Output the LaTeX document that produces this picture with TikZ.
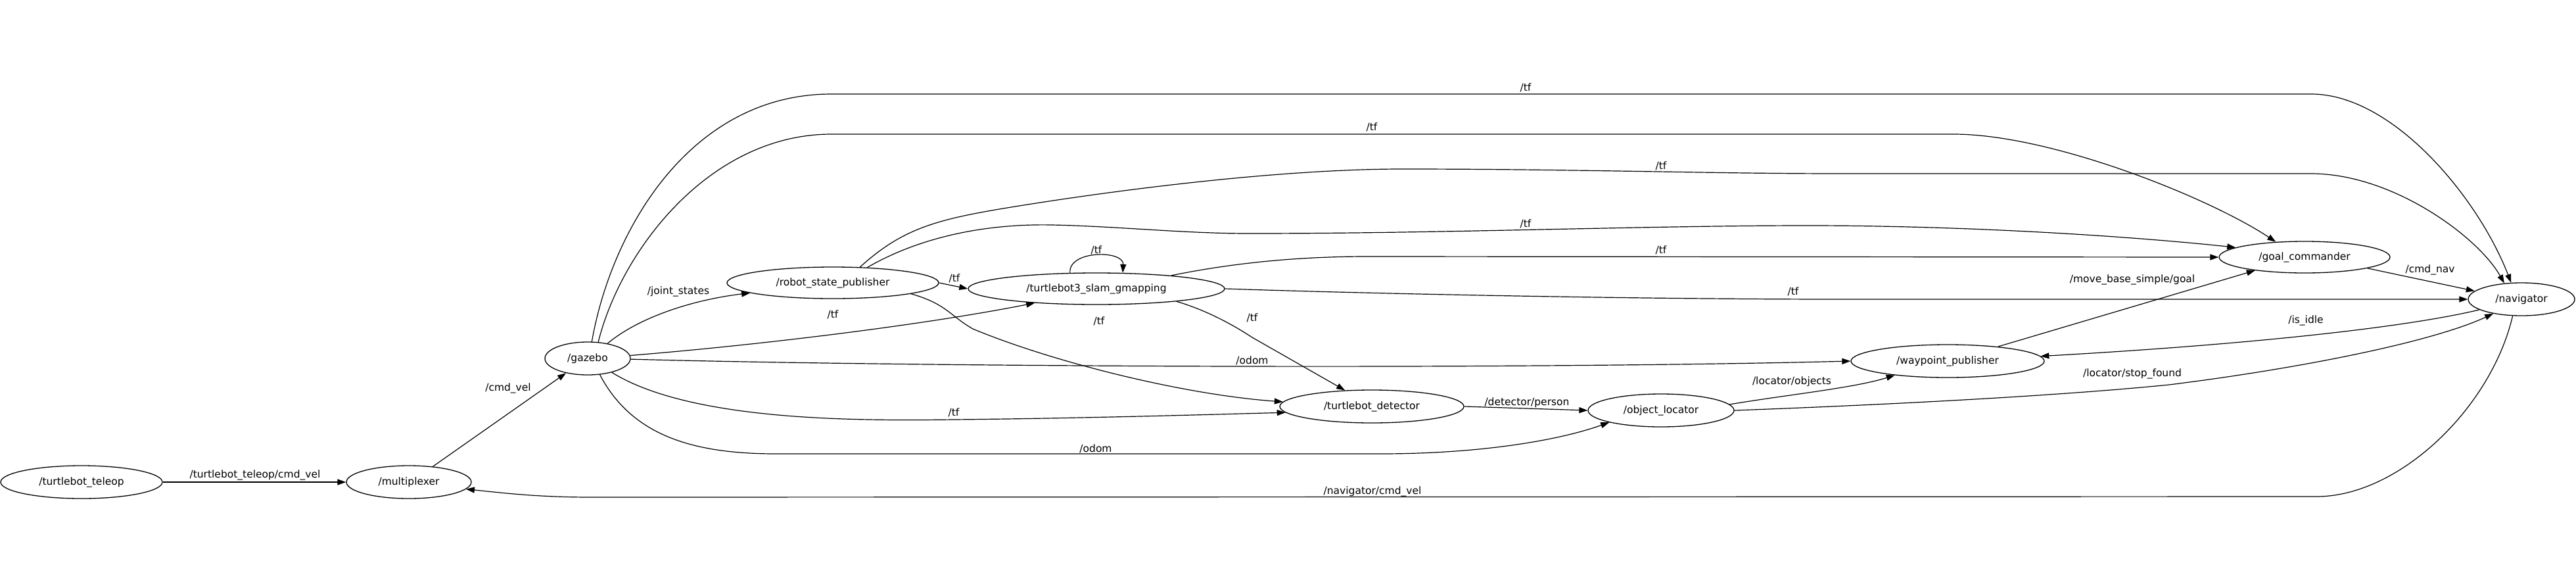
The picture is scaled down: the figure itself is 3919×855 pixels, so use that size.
\documentclass[tikz,border=0pt]{standalone}
\usepackage{fontspec}
\setmainfont{DejaVu Sans}
\usetikzlibrary{shapes.geometric,arrows.meta}
\begin{document}
\begin{tikzpicture}[x=1pt,y=-1pt,
  nd/.style={draw, ellipse, line width=1.3pt, inner sep=0pt, font=\fontsize{15.5}{18}\selectfont},
  conn/.style={line width=1.2pt, -{Triangle[length=13pt,width=9pt]}},
  lbl/.style={inner sep=0pt, font=\fontsize{15.5}{18}\selectfont}]
\useasboundingbox (0,0) rectangle (3919,855);

% nodes
\node[nd, minimum width=246pt, minimum height=50pt] (teleop) at (124,733) {/turtlebot\_teleop};
\node[nd, minimum width=190pt, minimum height=50pt] (mux) at (622,733) {/multiplexer};
\node[nd, minimum width=130pt, minimum height=50pt] (gazebo) at (894,545) {/gazebo};
\node[nd, minimum width=322pt, minimum height=48pt] (rsp) at (1267,430) {/robot\_state\_publisher};
\node[nd, minimum width=390pt, minimum height=48pt] (slam) at (1668,439) {/turtlebot3\_slam\_gmapping};
\node[nd, minimum width=280pt, minimum height=50pt] (det) at (2087,618) {/turtlebot\_detector};
\node[nd, minimum width=222pt, minimum height=50pt] (loc) at (2527,624) {/object\_locator};
\node[nd, minimum width=294pt, minimum height=50pt] (wp) at (2963,549) {/waypoint\_publisher};
\node[nd, minimum width=260pt, minimum height=48pt] (goal) at (3506,391) {/goal\_commander};
\node[nd, minimum width=162pt, minimum height=50pt] (nav) at (3836,455) {/navigator};

% connectors
\draw[conn] (teleop.east) -- (mux.west);
\draw[conn] (mux.33) -- (gazebo.214);
\draw[conn] (gazebo.37) .. controls (975,480) and (1060,455) .. (rsp.187);
\draw[conn] (rsp.east) -- (slam.west);
\draw[conn] (gazebo.4) .. controls (1150,525) and (1400,495) .. (slam.193);
\draw[conn] (gazebo.-1) .. controls (1400,558) and (2300,562) .. (wp.west);
\draw[conn] (gazebo.-30) .. controls (1050,640) and (1300,640) .. (1450,638) .. controls (1650,636) and (1850,630) .. (det.184);
\draw[conn] (gazebo.-53) .. controls (960,660) and (1050,690) .. (1180,690) -- (2100,690) .. controls (2250,690) and (2370,670) .. (loc.193);
\draw[conn] (gazebo.76) .. controls (930,350) and (1050,143) .. (1265,143) -- (3516,143) .. controls (3640,143) and (3770,300) .. (nav.122);
\draw[conn] (gazebo.57) .. controls (945,380) and (1080,204) .. (1265,204) -- (2972,204) .. controls (3120,204) and (3360,300) .. (goal.152);
\draw[conn] (rsp.30) .. controls (1370,350) and (1420,335) .. (1520,318) .. controls (1700,288) and (1950,257) .. (2133,257) .. controls (2400,257) and (2600,264) .. (2800,264) -- (3516,264) .. controls (3640,264) and (3770,360) .. (nav.137);
\draw[conn] (rsp.24) .. controls (1400,360) and (1500,340) .. (1600,342) .. controls (1700,344) and (1800,355) .. (1900,355) .. controls (2200,355) and (2500,343) .. (2750,343) .. controls (3000,343) and (3250,360) .. (goal.172);
\draw[conn] (slam.10) .. controls (1850,405) and (1950,390) .. (2080,390) -- (goal.west);
\draw[conn] (slam.east) .. controls (2100,447) and (2500,455) .. (2800,455) -- (nav.west);
\draw[conn] (slam.149) .. controls (1625,380) and (1710,380) .. (slam.31);
\draw[conn] (slam.-9) .. controls (1830,470) and (1870,490) .. (1905,513) -- (det.149);
\draw[conn] (rsp.-8) .. controls (1440,462) and (1445,480) .. (1480,500) .. controls (1600,550) and (1800,600) .. (det.177);
\draw[conn] (det.east) -- (loc.west);
\draw[conn] (loc.5) .. controls (2720,600) and (2820,590) .. (wp.195);
\draw[conn] (loc.east) .. controls (2800,618) and (3100,605) .. (3300,585) .. controls (3500,560) and (3700,520) .. (nav.207);
\draw[conn] (wp.16) -- (goal.195);
\draw[conn] (nav.194) .. controls (3650,500) and (3400,525) .. (wp.3);
\draw[conn] (goal.-10) -- (nav.170);
\draw[conn] (nav.242) .. controls (3790,620) and (3650,755) .. (3524,755) -- (900,756) .. controls (820,756) and (770,750) .. (mux.-7);

% labels
\node[lbl] (l1) at (388,722) {/turtlebot\_teleop/cmd\_vel};
\node[lbl] (l2) at (773,590) {/cmd\_vel};
\node[lbl] (l3) at (1032,443) {/joint\_states};
\node[lbl] (l4) at (1452,423) {/tf};
\node[lbl] (l5) at (1267,478) {/tf};
\node[lbl] (l6) at (1905,548) {/odom};
\node[lbl] (l7) at (1451,627) {/tf};
\node[lbl] (l8) at (1667,682) {/odom};
\node[lbl] (l9) at (2321,133) {/tf};
\node[lbl] (l10) at (2087,193) {/tf};
\node[lbl] (l11) at (2527,252) {/tf};
\node[lbl] (l12) at (2321,340) {/tf};
\node[lbl] (l13) at (2527,380) {/tf};
\node[lbl] (l14) at (2728,443) {/tf};
\node[lbl] (l15) at (1668,380) {/tf};
\node[lbl] (l16) at (1905,483) {/tf};
\node[lbl] (l17) at (1672,488) {/tf};
\node[lbl] (l18) at (2323,612) {/detector/person};
\node[lbl] (l19) at (2726,580) {/locator/objects};
\node[lbl] (l20) at (3244,568) {/locator/stop\_found};
\node[lbl] (l21) at (3244,425) {/move\_base\_simple/goal};
\node[lbl] (l22) at (3508,487) {/is\_idle};
\node[lbl] (l23) at (3697,410) {/cmd\_nav};
\node[lbl] (l24) at (2088,747) {/navigator/cmd\_vel};
\end{tikzpicture}
\end{document}
